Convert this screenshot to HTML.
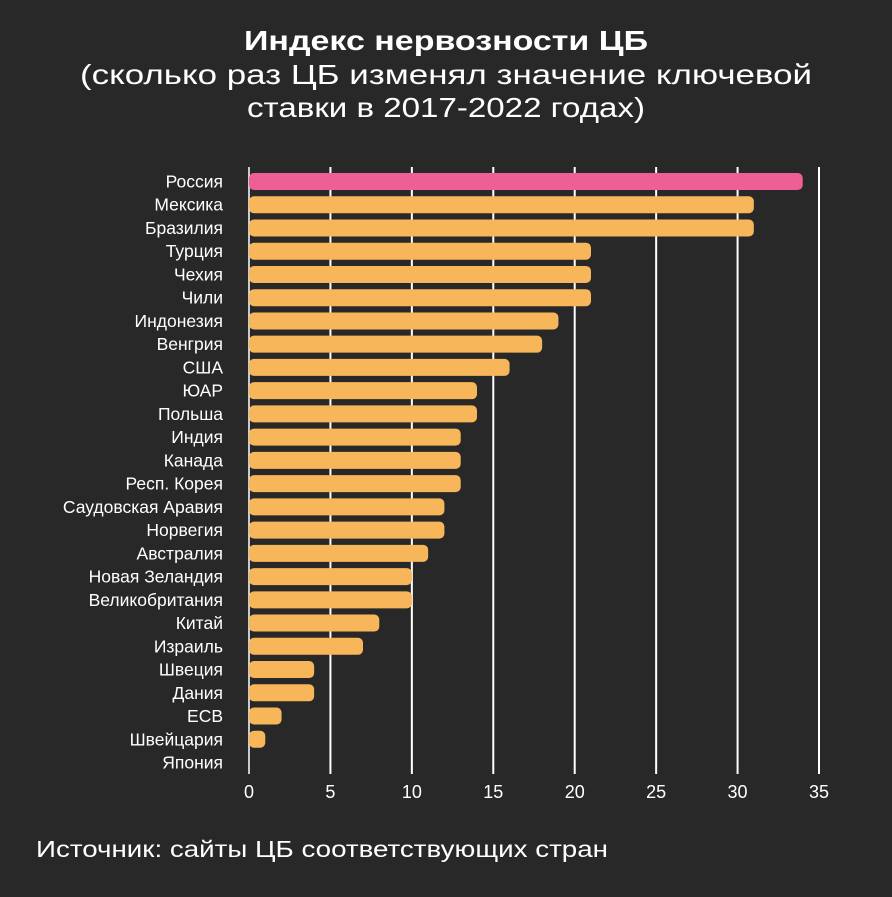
<!DOCTYPE html>
<html><head><meta charset="utf-8"><style>
body{margin:0;background:#282828;width:892px;height:892px;overflow:hidden;font-family:"Liberation Sans","DejaVu Sans",sans-serif}
</style></head><body>
<svg width="892" height="892" id="c">
<rect width="892" height="892" fill="#282828"/>
<text x="446" y="50" text-anchor="middle" fill="#fff" font-size="28" font-weight="bold" textLength="404" lengthAdjust="spacingAndGlyphs">Индекс нервозности ЦБ</text>
<text x="446" y="84" text-anchor="middle" fill="#fff" font-size="28" textLength="732" lengthAdjust="spacingAndGlyphs">(сколько раз ЦБ изменял значение ключевой</text>
<text x="446" y="117" text-anchor="middle" fill="#fff" font-size="28" textLength="398" lengthAdjust="spacingAndGlyphs">ставки в 2017-2022 годах)</text>
<text x="36" y="857" fill="#fff" font-size="23" textLength="572" lengthAdjust="spacingAndGlyphs">Источник: сайты ЦБ соответствующих стран</text>
<g id="grid"></g><g id="bars"></g><g id="labels"></g><g id="ticks"></g>
</svg>
<script>
const countries=["Россия","Мексика","Бразилия","Турция","Чехия","Чили","Индонезия","Венгрия","США","ЮАР","Польша","Индия","Канада","Респ. Корея","Саудовская Аравия","Норвегия","Австралия","Новая Зеландия","Великобритания","Китай","Израиль","Швеция","Дания","ЕСВ","Швейцария","Япония"];
const values=[34,31,31,21,21,21,19,18,16,14,14,13,13,13,12,12,11,10,10,8,7,4,4,2,1,0];
const ticks=[0,5,10,15,20,25,30,35];
const NS="http://www.w3.org/2000/svg";
const x0=249,x1=819,xmax=35;
const xs=v=>x0+(x1-x0)*v/xmax;
const ys=i=>181.5+i*23.24;
function mk(t,a,p){const e=document.createElementNS(NS,t);for(const k in a)e.setAttribute(k,a[k]);p.appendChild(e);return e;}
const g=document.getElementById('grid'),b=document.getElementById('bars'),l=document.getElementById('labels'),tk=document.getElementById('ticks');
ticks.forEach(t=>{
 const ln=mk('line',{x1:xs(t),x2:xs(t),y1:167,y2:774,stroke:'#fff','stroke-width':t===0?1.5:2},g);
 
 
 const tx=mk('text',{x:xs(t),y:798,'text-anchor':'middle',fill:'#fff','font-size':18},tk);
 tx.textContent=t;
 
 
});
countries.forEach((c,i)=>{
 const w=xs(values[i])-x0;
 if(w>0){
 const r=mk('rect',{x:x0,y:ys(i)-8.5,width:w,height:17,rx:5,fill:i===0?'#ee5f95':'#f7b65a'},b);
 
 
 }
 const tx=mk('text',{x:223,y:ys(i)+6,'text-anchor':'end',fill:'#fff','font-size':17.5},l);
 tx.textContent=c;
 
 
});
</script>
</body></html>
